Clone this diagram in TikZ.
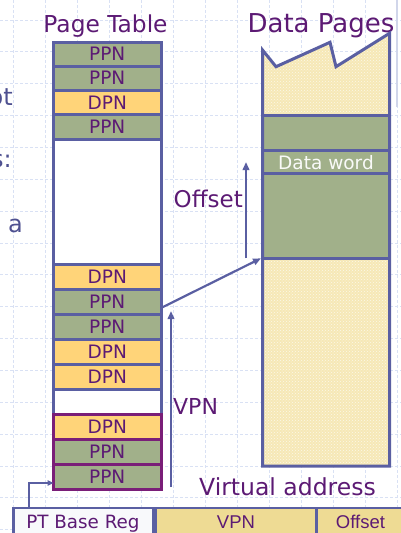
\documentclass[tikz,border=0pt]{standalone}
\usepackage{fontspec}
\setmainfont{DejaVu Sans}
\newfontfamily\arialfont{Liberation Sans}
\usetikzlibrary{arrows.meta,patterns}
\definecolor{tb}{HTML}{5A5FA2}
\definecolor{tp}{HTML}{5C1A74}
\definecolor{pb}{HTML}{7A1E78}
\definecolor{gr}{HTML}{A1B08A}
\definecolor{dp}{HTML}{FFD479}
\definecolor{yl}{HTML}{F6E8B6}
\definecolor{rg}{HTML}{EEDB94}
\definecolor{gridc}{HTML}{D9E1F4}
\definecolor{slate}{HTML}{4E5090}
\tikzset{
  row/.style={draw=tb, line width=3pt, minimum width=107.5pt, inner sep=0pt, outer sep=0pt,
    text=tp, font=\fontsize{18.5}{18.5}\selectfont, anchor=north west},
  prow/.style={row, draw=pb},
  ppn/.style={row, fill=gr},
  dpn/.style={row, fill=dp},
  reg/.style={draw=tb, line width=2.6pt, inner sep=0pt, outer sep=0pt, anchor=north west,
    text=tp},
  arr/.style={draw=tb, line width=2pt, -{Triangle[length=8pt,width=6.5pt]}},
  title/.style={text=tp, inner sep=0pt},
}
\begin{document}
\begin{tikzpicture}[x=1pt,y=-1pt]
\useasboundingbox (0,0) rectangle (401,533);
\clip (0,0) rectangle (401,533);
% background grid
\foreach \i in {0,...,16} \draw[gridc, line width=0.8pt, dash pattern=on 3pt off 2pt] (0,20+31.85*\i) -- (401,20+31.85*\i);
\foreach \i in {0,...,12} \draw[gridc, line width=0.8pt, dash pattern=on 3pt off 2pt] (13+32*\i,0) -- (13+32*\i,533);
\draw[gridc!70!tb!60, line width=1.2pt] (397,0) -- (397,107);
% partial slide text on left
\node[text=slate, font=\fontsize{24}{24}\selectfont, anchor=base east, inner sep=0pt] (t1) at (13,105) {ot};
\node[text=slate, font=\fontsize{24}{24}\selectfont, anchor=base east, inner sep=0pt] (t2) at (12,167) {s:};
\node[text=slate, font=\fontsize{24}{24}\selectfont, anchor=base west, inner sep=0pt] (t3) at (8,232) {a};
% titles
\node[title, font=\fontsize{23.3}{23.3}\selectfont, anchor=base] (pt) at (105.5,32) {Page Table};
\node[title, font=\fontsize{26}{26}\selectfont, anchor=base] (dpt) at (321,32) {Data Pages};
% page table rows
\node[ppn, minimum height=24pt] (r1) at (53.5,42) {PPN};
\node[ppn, minimum height=24.5pt] (r2) at (53.5,66) {PPN};
\node[dpn, minimum height=24pt] (r3) at (53.5,90.5) {DPN};
\node[ppn, minimum height=24.5pt] (r4) at (53.5,114.5) {PPN};
\node[row, fill=white, minimum height=125.5pt] (r5) at (53.5,139) {};
\node[dpn, minimum height=25pt] (r6) at (53.5,264.5) {DPN};
\node[ppn, minimum height=24.5pt] (r7) at (53.5,289.5) {PPN};
\node[ppn, minimum height=25pt] (r8) at (53.5,314) {PPN};
\node[dpn, minimum height=25pt] (r9) at (53.5,339) {DPN};
\node[dpn, minimum height=25pt] (r10) at (53.5,364) {DPN};
\node[row, fill=white, minimum height=25pt] (r11) at (53.5,389) {};
\node[prow, fill=dp, minimum height=25pt] (r12) at (53.5,414) {DPN};
\node[prow, fill=gr, minimum height=25pt] (r13) at (53.5,439) {PPN};
\node[prow, fill=gr, minimum height=25pt] (r14) at (53.5,464) {PPN};
% data pages
\path[fill=yl] (262.5,50) -- (276,66.7) -- (330,42.3) -- (336,66.7) -- (389.5,33.3) -- (389.5,466) -- (262.5,466) -- cycle;
\path[pattern=crosshatch dots, pattern color=white!70!yl] (262.5,50) -- (276,66.7) -- (330,42.3) -- (336,66.7) -- (389.5,33.3) -- (389.5,466) -- (262.5,466) -- cycle;
\path[fill=gr] (262.5,115) rectangle (389.5,258.3);
\draw[tb, line width=3pt] (262.5,115) -- (389.5,115) (262.5,150.8) -- (389.5,150.8) (262.5,173.3) -- (389.5,173.3) (262.5,258.3) -- (389.5,258.3);
\draw[tb, line width=3pt, line join=miter] (262.5,50) -- (276,66.7) -- (330,42.3) -- (336,66.7) -- (389.5,33.3) -- (389.5,466) -- (262.5,466) -- cycle;
\node[inner sep=0pt, text=white!94!gr, font=\fontsize{18.5}{18.5}\selectfont] (dw) at (326,162.5) {Data word};
\coordinate (dpc) at (261,258.3);
\coordinate (offb) at (246,258.3);
\coordinate (offt) at (246,162);
% connectors
\draw[arr, line width=2.2pt] ([yshift=6pt]r7.south east) -- (dpc);
\draw[arr] (offb) -- (offt);
\node[title, font=\fontsize{23}{23}\selectfont, anchor=base east] (offl) at (243,207) {Offset};
% register
\node[reg, fill=white!96!tb, minimum width=140pt, minimum height=40pt] (ptb) at (13.5,508) {};
\node[reg, fill=rg, minimum width=161pt, minimum height=40pt] (vpnr) at (155.5,508) {};
\node[reg, fill=rg, minimum width=90pt, minimum height=40pt] (offr) at (316.5,508) {};
\node[title, font=\fontsize{18.3}{18.3}\selectfont, anchor=base] (ptbt) at (83,528) {PT Base Reg};
\node[title, font=\arialfont\fontsize{18.5}{18.5}\selectfont, anchor=base] (vpnt) at (236,528) {VPN};
\node[title, font=\arialfont\fontsize{18.5}{18.5}\selectfont, anchor=base] (offt2) at (360.5,528) {Offset};
\coordinate (vpnb) at (171,487);
\coordinate (vpnt2) at (171,311);
\draw[arr] (vpnb) -- (vpnt2);
\node[title, font=\fontsize{22}{22}\selectfont, anchor=base west] (vpnl) at (173,414) {VPN};
\node[title, font=\fontsize{23.5}{23.5}\selectfont, anchor=base west] (va) at (199,495) {Virtual address};
\coordinate (ptc) at (29,483);
\draw[draw=tb, line width=1.6pt, -{Triangle[length=6pt,width=5.5pt]}] ([xshift=15.5pt]ptb.north west) |- (r14.west |- ptc);
\end{tikzpicture}
\end{document}
